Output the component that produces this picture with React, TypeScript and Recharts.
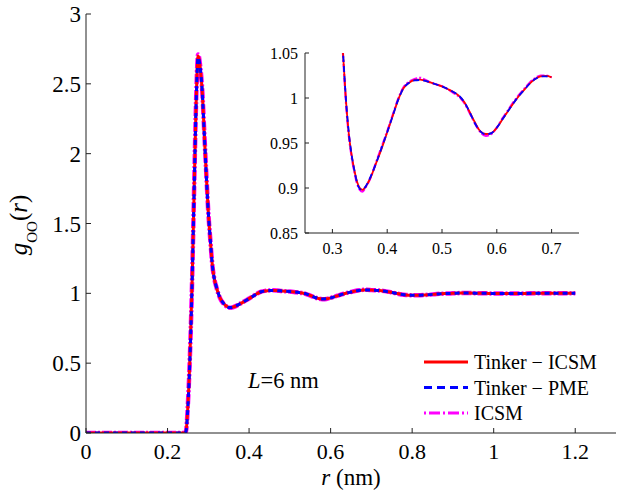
import React from 'react';
import { LineChart, Line, XAxis, YAxis, Legend } from 'recharts';

const rValues = [0, 0.05, 0.1, 0.15, 0.2, 0.24, 0.245, 0.25, 0.255, 0.26, 0.265, 0.27, 0.275, 0.28, 0.285, 0.29, 0.295, 0.3, 0.305, 0.31, 0.315, 0.32, 0.325, 0.33, 0.335, 0.34, 0.345, 0.35, 0.355, 0.36, 0.37, 0.38, 0.39, 0.4, 0.41, 0.42, 0.43, 0.44, 0.45, 0.46, 0.47, 0.48, 0.49, 0.5, 0.51, 0.52, 0.53, 0.54, 0.55, 0.56, 0.57, 0.58, 0.59, 0.6, 0.61, 0.62, 0.63, 0.64, 0.65, 0.66, 0.67, 0.68, 0.69, 0.7, 0.72, 0.74, 0.76, 0.78, 0.8, 0.82, 0.84, 0.86, 0.88, 0.9, 0.92, 0.94, 0.96, 0.98, 1.0, 1.05, 1.1, 1.15, 1.2];

const tinkerIcsm = [0, 0, 0, 0, 0, 0, 0.01, 0.2, 0.55, 1.05, 1.7, 2.35, 2.7, 2.62, 2.45, 2.15, 1.85, 1.58, 1.38, 1.2, 1.1, 1.043, 0.995, 0.96, 0.937, 0.92, 0.907, 0.9, 0.898, 0.901, 0.912, 0.928, 0.944, 0.962, 0.98, 0.998, 1.011, 1.017, 1.02, 1.0205, 1.019, 1.017, 1.015, 1.013, 1.01, 1.007, 1.003, 0.996, 0.985, 0.973, 0.963, 0.96, 0.961, 0.967, 0.976, 0.985, 0.994, 1.002, 1.009, 1.016, 1.021, 1.024, 1.0245, 1.023, 1.02, 1.012, 1.0, 0.99, 0.986, 0.987, 0.99, 0.995, 0.998, 1.0, 1.002, 1.002, 1.001, 1.0, 0.999, 0.999, 1.0, 1.0, 1.0];

const tinkerPme = [0, 0, 0, 0, 0, 0, 0.01, 0.19, 0.54, 1.04, 1.7, 2.34, 2.69, 2.62, 2.45, 2.15, 1.85, 1.58, 1.38, 1.2, 1.1, 1.044, 0.996, 0.961, 0.937, 0.92, 0.906, 0.899, 0.898, 0.901, 0.913, 0.928, 0.945, 0.962, 0.98, 0.998, 1.011, 1.017, 1.0195, 1.02, 1.019, 1.017, 1.015, 1.013, 1.01, 1.007, 1.003, 0.996, 0.985, 0.972, 0.963, 0.9595, 0.961, 0.967, 0.976, 0.985, 0.994, 1.002, 1.009, 1.016, 1.021, 1.024, 1.024, 1.023, 1.02, 1.012, 1.0, 0.99, 0.986, 0.987, 0.99, 0.995, 0.998, 1.0, 1.002, 1.002, 1.001, 1.0, 0.999, 0.999, 1.0, 1.0, 1.0];

const icsm = [0, 0, 0, 0, 0, 0, 0.01, 0.21, 0.56, 1.06, 1.72, 2.37, 2.71, 2.63, 2.46, 2.16, 1.86, 1.58, 1.38, 1.2, 1.1, 1.042, 0.993, 0.958, 0.935, 0.918, 0.905, 0.898, 0.896, 0.9, 0.912, 0.929, 0.946, 0.963, 0.981, 0.999, 1.012, 1.018, 1.021, 1.0225, 1.02, 1.017, 1.015, 1.013, 1.01, 1.006, 1.002, 0.995, 0.984, 0.972, 0.962, 0.958, 0.96, 0.967, 0.977, 0.986, 0.995, 1.003, 1.01, 1.017, 1.022, 1.025, 1.025, 1.023, 1.02, 1.012, 1.0, 0.99, 0.986, 0.987, 0.99, 0.995, 0.998, 1.0, 1.002, 1.002, 1.001, 1.0, 0.999, 0.999, 1.0, 1.0, 1.0];

const mainXTicks = [0, 0.2, 0.4, 0.6, 0.8, 1, 1.2];
const mainYTicks = [0, 0.5, 1, 1.5, 2, 2.5, 3];
const insetXTicks = [0.3, 0.4, 0.5, 0.6, 0.7];
const insetYTicks = [0.85, 0.9, 0.95, 1, 1.05];
const seriesNames = ['Tinker \u2212 ICSM', 'Tinker \u2212 PME', 'ICSM'];

const FONT = "'Liberation Serif', Tinos, 'Times New Roman', Times, 'Noto Serif', 'DejaVu Serif', serif";
const AXIS = '#222';

const mainData = rValues.map((r, i) => ({ r, a: tinkerIcsm[i], b: tinkerPme[i], c: icsm[i] }));
const insetData = mainData.filter((d) => d.r >= 0.305 && d.r <= 0.7);

const fmt = (v: number) => String(parseFloat(v.toFixed(2)));

function makeTick(side: string, fontSize: number, len: number, baseOff: number, showLabel: boolean) {
  return (props: any) => {
    const { x, y, payload } = props;
    const v = payload.value;
    if (side === 'bottom') {
      return (
        <g>
          <line x1={x} y1={y} x2={x} y2={y - len} stroke={AXIS} strokeWidth={1} />
          {showLabel && (
            <text x={x} y={y + baseOff} textAnchor="middle" style={{ fontFamily: FONT, fontSize }} fill="#000">
              {fmt(v)}
            </text>
          )}
        </g>
      );
    }
    if (side === 'top') {
      return <line x1={x} y1={y} x2={x} y2={y + len} stroke={AXIS} strokeWidth={1} />;
    }
    if (side === 'left') {
      return (
        <g>
          <line x1={x} y1={y} x2={x + len} y2={y} stroke={AXIS} strokeWidth={1} />
          {showLabel && (
            <text x={x - baseOff} y={y + fontSize * 0.35} textAnchor="end" style={{ fontFamily: FONT, fontSize }} fill="#000">
              {fmt(v)}
            </text>
          )}
        </g>
      );
    }
    return <line x1={x} y1={y} x2={x - len} y2={y} stroke={AXIS} strokeWidth={1} />;
  };
}

const legendRows = [
  { name: seriesNames[0], color: '#ff0000', dash: undefined as string | undefined },
  { name: seriesNames[1], color: '#0000ff', dash: '8 5' },
  { name: seriesNames[2], color: '#ff00ff', dash: '2 3 11 3' },
];

const LegendContent = () => (
  <svg width={200} height={80} style={{ display: 'block' }}>
    {legendRows.map((row, i) => {
      const cy = 12 + i * 25.5;
      return (
        <g key={row.name}>
          <line x1={4} x2={48} y1={cy} y2={cy} stroke={row.color} strokeWidth={3} strokeDasharray={row.dash} />
          <text x={54} y={cy + 7} style={{ fontFamily: FONT, fontSize: 20 }} fill="#000">
            {row.name}
          </text>
        </g>
      );
    })}
  </svg>
);

export default function App() {
  return (
    <div style={{ position: 'absolute', left: 0, top: 0, width: 624, height: 498, background: '#fff', fontFamily: FONT }}>
      <LineChart width={624} height={498} data={mainData} margin={{ top: 14, right: 8, left: 0, bottom: 10 }}>
        <XAxis dataKey="r" type="number" domain={[0, 1.3]} ticks={mainXTicks} interval={0} height={55} tickSize={0} tickMargin={0} tickLine={false} stroke={AXIS} tick={makeTick('bottom', 22, 5, 26, true)} allowDataOverflow />
        <XAxis xAxisId="top" orientation="top" type="number" domain={[0, 1.3]} ticks={mainXTicks} interval={0} height={0} tickSize={0} tickMargin={0} tickLine={false} stroke={AXIS} tick={makeTick('top', 22, 5, 0, false)} allowDataOverflow />
        <YAxis type="number" domain={[0, 3]} ticks={mainYTicks} interval={0} width={86} tickSize={0} tickMargin={0} tickLine={false} stroke={AXIS} tick={makeTick('left', 23, 5, 5, true)} allowDataOverflow />
        <YAxis yAxisId="right" orientation="right" type="number" domain={[0, 3]} ticks={mainYTicks} interval={0} width={0} tickSize={0} tickMargin={0} tickLine={false} stroke={AXIS} tick={makeTick('right', 23, 5, 0, false)} allowDataOverflow />
        <Line type="monotone" dataKey="c" name={seriesNames[2]} stroke="#ff00ff" strokeWidth={4.5} strokeDasharray="10 2 2 2" dot={false} isAnimationActive={false} />
        <Line type="monotone" dataKey="a" name={seriesNames[0]} stroke="#ff0000" strokeWidth={3} dot={false} isAnimationActive={false} />
        <Line type="monotone" dataKey="b" name={seriesNames[1]} stroke="#0000ff" strokeWidth={3} strokeDasharray="5 4" dot={false} isAnimationActive={false} />
        <Legend layout="vertical" align="center" verticalAlign="middle" content={<LegendContent />} wrapperStyle={{ position: 'absolute', left: 420, top: 350, width: 200, height: 80 }} />
      </LineChart>

      <div style={{ position: 'absolute', left: 220, top: 40, width: 370, height: 230 }}>
        <LineChart width={370} height={230} data={insetData} margin={{ top: 13, right: 11, left: 0, bottom: 7 }}>
          <XAxis dataKey="r" type="number" domain={[0.25, 0.75]} ticks={insetXTicks} interval={0} height={30} tickSize={0} tickMargin={0} tickLine={false} stroke={AXIS} tick={makeTick('bottom', 16, 4, 21, true)} allowDataOverflow />
          <XAxis xAxisId="top" orientation="top" type="number" domain={[0.25, 0.75]} ticks={insetXTicks} interval={0} height={0} tickSize={0} tickMargin={0} tickLine={false} stroke={AXIS} tick={makeTick('top', 16, 4, 0, false)} allowDataOverflow />
          <YAxis type="number" domain={[0.85, 1.05]} ticks={insetYTicks} interval={0} width={85} tickSize={0} tickMargin={0} tickLine={false} stroke={AXIS} tick={makeTick('left', 16, 4, 7, true)} allowDataOverflow />
          <YAxis yAxisId="right" orientation="right" type="number" domain={[0.85, 1.05]} ticks={insetYTicks} interval={0} width={0} tickSize={0} tickMargin={0} tickLine={false} stroke={AXIS} tick={makeTick('right', 16, 4, 0, false)} allowDataOverflow />
          <Line type="monotone" dataKey="c" stroke="#ff00ff" strokeWidth={2.2} strokeDasharray="8 2 2 2" dot={false} isAnimationActive={false} />
          <Line type="monotone" dataKey="a" stroke="#ff0000" strokeWidth={1.8} dot={false} isAnimationActive={false} />
          <Line type="monotone" dataKey="b" stroke="#0000ff" strokeWidth={1.8} strokeDasharray="6 4" dot={false} isAnimationActive={false} />
        </LineChart>
      </div>

      <svg width={624} height={498} style={{ position: 'absolute', left: 0, top: 0, pointerEvents: 'none' }}>
        <text x={248} y={388} style={{ fontFamily: FONT, fontSize: 22.5 }} fill="#000">
          <tspan fontStyle="italic">L</tspan>=6 nm
        </text>
        <text x={351} y={485} textAnchor="middle" style={{ fontFamily: FONT, fontSize: 23 }} fill="#000">
          <tspan fontStyle="italic">r</tspan> (nm)
        </text>
        <text transform="translate(27,225) rotate(-90)" textAnchor="middle" style={{ fontFamily: FONT, fontSize: 25 }} fill="#000">
          <tspan fontStyle="italic">g</tspan>
          <tspan fontSize={15} dy={10}>OO</tspan>
          <tspan dy={-10}>(</tspan>
          <tspan fontStyle="italic">r</tspan>
          <tspan>)</tspan>
        </text>
      </svg>
    </div>
  );
}
